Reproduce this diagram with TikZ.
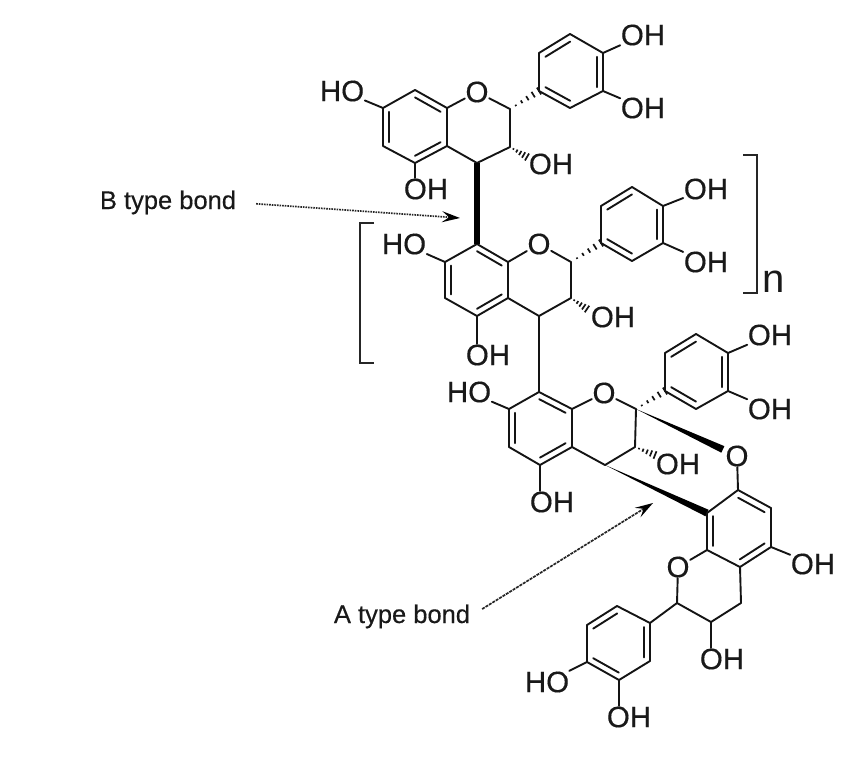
\documentclass[tikz,border=0pt]{standalone}
\usepackage{fontspec}
\setmainfont{Liberation Sans}
\newfontfamily\emfont[FakeBold=0.35]{Liberation Sans}
\usetikzlibrary{calc,arrows.meta}
\tikzset{
  bondline/.style={line width=1.9pt,line cap=round,line join=round,black!92},
  atom/.style={font=\emfont\fontsize{29.5}{30}\selectfont,inner sep=0.5pt,text=black!90},
  caption/.style={font=\emfont\fontsize{25.5}{26}\selectfont,anchor=base,inner sep=0pt,text=black!90},
  bracketline/.style={line width=1.7pt,line join=miter,black!85},
  pointer/.style={line width=1.7pt,black!85,-{Stealth[length=18pt,width=11pt,inset=7pt,black]}}
}
\newcommand{\bnd}[2]{\draw[bondline] (#1) -- (#2);}
\newcommand{\dbl}[3]{\draw[bondline] ($(#1)!0.2!(#3)$) -- ($(#2)!0.2!(#3)$);}
\newcommand{\wdg}[2]{\fill[black] (#1) -- ($(#2)!3.6pt!90:(#1)$) -- ($(#2)!3.6pt!-90:(#1)$) -- cycle;}
\newcommand{\hsh}[2]{%
  \foreach \hI in {1,...,5}{%
    \pgfmathsetmacro{\hT}{\hI/5}%
    \pgfmathsetmacro{\hW}{0.8*\hI}%
    \coordinate (hpt) at ($(#1)!\hT!(#2)$);%
    \draw[line width=1.7pt,black!92] ($(hpt)!\hW pt!90:(#1)$) -- ($(hpt)!\hW pt!-90:(#1)$);%
  }%
}
\begin{document}
\begin{tikzpicture}[x=1pt,y=-1pt]
\useasboundingbox (0,0) rectangle (866,770);

% ---------- unit 1
\coordinate (u1c8) at (415,90);
\coordinate (u1c8a) at (447,108);
\coordinate (u1c4a) at (447,146);
\coordinate (u1c5) at (415,163);
\coordinate (u1c6) at (383,146);
\coordinate (u1c7) at (383,108);
\coordinate (u1ca) at (415,127);
\node[atom] (u1o) at (477,92) {O};
\coordinate (u1c2) at (510,109);
\coordinate (u1c3) at (510,147);
\coordinate (u1c4) at (477,163);
\coordinate (u1p1) at (539,91);
\coordinate (u1p2) at (539,53);
\coordinate (u1p3) at (570,34);
\coordinate (u1p4) at (603,53);
\coordinate (u1p5) at (603,91);
\coordinate (u1p6) at (570,108);
\coordinate (u1cp) at (571,72);
\node[atom] (u1oh1) at (643,35) {OH};
\node[atom] (u1oh2) at (643,108) {OH};
\node[atom] (u1ho) at (342,91) {HO};
\node[atom] (u1oh5) at (426,189) {OH};
\node[atom] (u1oh3) at (551,164) {OH};
\coordinate (u1h) at (527,157);

% ---------- unit 2
\coordinate (u2c8) at (477,244);
\coordinate (u2c8a) at (508,262);
\coordinate (u2c4a) at (508,298);
\coordinate (u2c5) at (477,316);
\coordinate (u2c6) at (445,298);
\coordinate (u2c7) at (445,262);
\coordinate (u2ca) at (477,280);
\node[atom] (u2o) at (539,244) {O};
\coordinate (u2c2) at (571,262);
\coordinate (u2c3) at (571,298);
\coordinate (u2c4) at (539,316);
\coordinate (u2p1) at (601,243);
\coordinate (u2p2) at (601,206);
\coordinate (u2p3) at (632,187);
\coordinate (u2p4) at (663,206);
\coordinate (u2p5) at (663,243);
\coordinate (u2p6) at (632,261);
\coordinate (u2cp) at (632,224);
\node[atom] (u2oh1) at (706,189) {OH};
\node[atom] (u2oh2) at (706,262) {OH};
\node[atom] (u2ho) at (404,244) {HO};
\node[atom] (u2oh5) at (488,355) {OH};
\node[atom] (u2oh3) at (613,317) {OH};
\coordinate (u2h) at (587,309);

% ---------- unit 3
\coordinate (u3c8) at (539,392);
\coordinate (u3c8a) at (572,409);
\coordinate (u3c4a) at (572,447);
\coordinate (u3c5) at (540,465);
\coordinate (u3c6) at (509,447);
\coordinate (u3c7) at (509,409);
\coordinate (u3ca) at (540,428);
\node[atom] (u3o) at (604,393) {O};
\coordinate (u3c2) at (636,409);
\coordinate (u3c3) at (635,447);
\coordinate (u3c4) at (605,465);
\coordinate (u3p1) at (665,391);
\coordinate (u3p2) at (665,353);
\coordinate (u3p3) at (696,334);
\coordinate (u3p4) at (728,353);
\coordinate (u3p5) at (728,391);
\coordinate (u3p6) at (696,409);
\coordinate (u3cp) at (696,372);
\node[atom] (u3oh1) at (770,335) {OH};
\node[atom] (u3oh2) at (770,409) {OH};
\node[atom] (u3ho) at (469,392) {HO};
\node[atom] (u3oh5) at (552,502) {OH};
\node[atom] (u3oh3) at (678,464) {OH};
\coordinate (u3h) at (655,455);

% ---------- bottom unit
\coordinate (bc7) at (738,490);
\coordinate (bc6) at (771,508);
\coordinate (bc5) at (771,547);
\coordinate (bc4a) at (740,567);
\coordinate (bc8a) at (707,550);
\coordinate (bc8) at (707,513);
\coordinate (bca) at (739,529);
\node[atom] (bo) at (678,567) {O};
\node[atom] (bo2) at (737,456) {O};
\coordinate (bc2) at (677,603);
\coordinate (bc3) at (711,622);
\coordinate (bc4) at (741,603);
\coordinate (bp1) at (650,623);
\coordinate (bp2) at (650,661);
\coordinate (bp3) at (619,680);
\coordinate (bp4) at (587,662);
\coordinate (bp5) at (587,625);
\coordinate (bp6) at (617,606);
\coordinate (bcp) at (618,643);
\node[atom] (boh5) at (813,564) {OH};
\node[atom] (boh3) at (722,659) {OH};
\node[atom] (bho) at (547,682) {HO};
\node[atom] (boh) at (629,717) {OH};

% ---------- repeated flavan units
\foreach \u in {u1,u2,u3}{
  \draw[bondline] (\u c8) -- (\u c8a) -- (\u c4a) -- (\u c5) -- (\u c6) -- (\u c7) -- cycle;
  \dbl{\u c8}{\u c8a}{\u ca}
  \dbl{\u c7}{\u c6}{\u ca}
  \dbl{\u c5}{\u c4a}{\u ca}
  \bnd{\u c8a}{\u o}
  \bnd{\u o}{\u c2}
  \draw[bondline] (\u c2) -- (\u c3) -- (\u c4) -- (\u c4a);
  \draw[bondline] (\u p1) -- (\u p2) -- (\u p3) -- (\u p4) -- (\u p5) -- (\u p6) -- cycle;
  \dbl{\u p2}{\u p3}{\u cp}
  \dbl{\u p4}{\u p5}{\u cp}
  \dbl{\u p6}{\u p1}{\u cp}
  \bnd{\u p4}{\u oh1}
  \bnd{\u p5}{\u oh2}
  \bnd{\u c7}{\u ho}
  \draw[bondline] (\u c5) -- (\u c5 |- \u oh5.north);
  \hsh{\u c3}{\u h}
}
\hsh{u1c2}{u1p1}
\hsh{u2c2}{u2p1}
\hsh{u3c2}{u3p1}

% ---------- interflavan bonds
\draw[line width=5.6pt,black] (u1c4) -- (u2c8);
\bnd{u2c4}{u3c8}
\wdg{u3c4}{bc8}
\wdg{u3c2}{$(u3c2)!0.86!(bo2)$}

% ---------- bottom unit bonds
\draw[bondline] (bc7) -- (bc6) -- (bc5) -- (bc4a) -- (bc8a) -- (bc8) -- cycle;
\dbl{bc7}{bc6}{bca}
\dbl{bc5}{bc4a}{bca}
\dbl{bc8a}{bc8}{bca}
\bnd{bc7}{bo2}
\bnd{bc8a}{bo}
\bnd{bo}{bc2}
\draw[bondline] (bc2) -- (bc3) -- (bc4) -- (bc4a);
\bnd{bc2}{bp1}
\draw[bondline] (bc3) -- (bc3 |- boh3.north);
\bnd{bc5}{boh5}
\draw[bondline] (bp1) -- (bp2) -- (bp3) -- (bp4) -- (bp5) -- (bp6) -- cycle;
\dbl{bp1}{bp2}{bcp}
\dbl{bp3}{bp4}{bcp}
\dbl{bp5}{bp6}{bcp}
\bnd{bp4}{bho}
\draw[bondline] (bp3) -- (bp3 |- boh.north);

% ---------- brackets
\coordinate (lb1) at (374,223);
\coordinate (lb2) at (360,223);
\coordinate (lb3) at (360,363);
\coordinate (lb4) at (374,363);
\draw[bracketline] (lb1) -- (lb2) -- (lb3) -- (lb4);
\coordinate (rb1) at (743,155);
\coordinate (rb2) at (757,155);
\coordinate (rb3) at (757,293);
\coordinate (rb4) at (743,293);
\draw[bracketline] (rb1) -- (rb2) -- (rb3) -- (rb4);
\node[font=\fontsize{40}{40}\selectfont,anchor=base,inner sep=0pt,text=black!90] (nlabel) at (774,292) {n};

% ---------- captions and pointers
\node[caption] (btxt) at (168,209) {B type bond};
\node[caption] (atxt) at (402,623) {A type bond};
\coordinate (btip) at (460,218);
\coordinate (atip) at (653,503);
\draw[pointer,dash pattern=on 1.6pt off 1pt,shorten <=20pt] (btxt.east) -- (btip);
\draw[pointer,dash pattern=on 3pt off 1pt,shorten <=14pt] (atxt.east) -- (atip);
\end{tikzpicture}
\end{document}
